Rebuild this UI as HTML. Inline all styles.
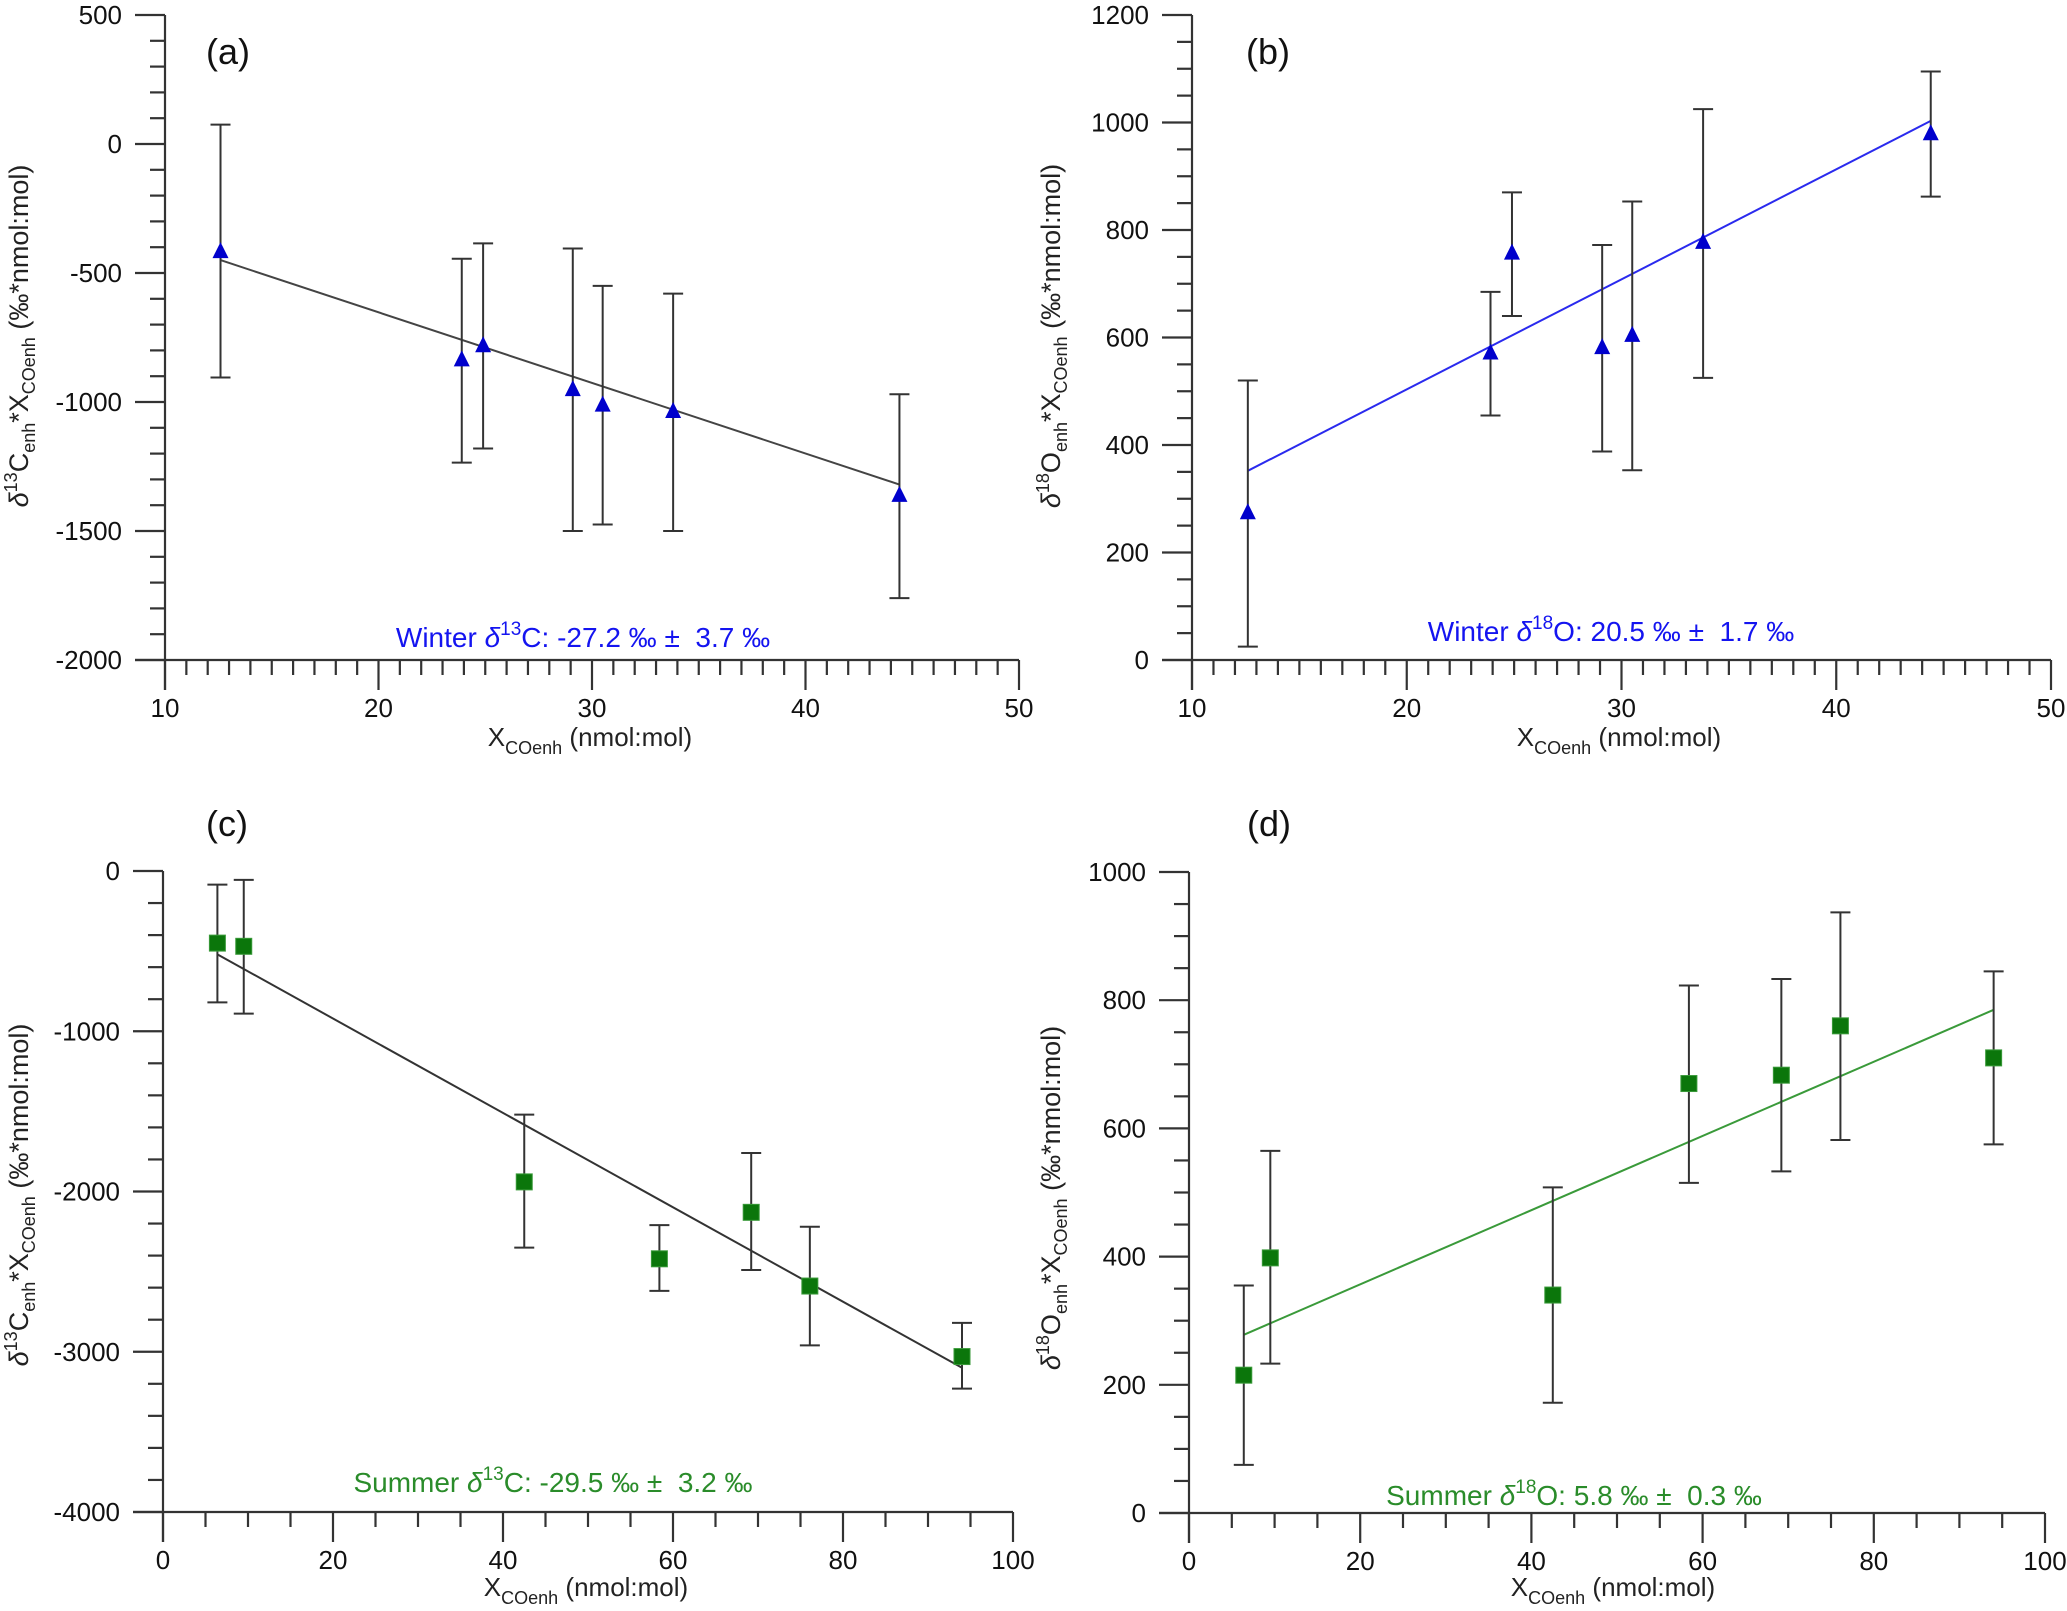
<!DOCTYPE html>
<html><head><meta charset="utf-8"><style>
html,body{margin:0;padding:0;background:#fff;}
svg{display:block;font-family:"Liberation Sans",sans-serif;}
</style></head><body>
<svg id="fig" width="2067" height="1611" viewBox="0 0 2067 1611" xmlns="http://www.w3.org/2000/svg"></svg>
<script>
// ---- data ----
const winterX = [12.6, 23.9, 24.9, 29.1, 30.5, 33.8, 44.4];
const aY  = [-415, -835, -780, -950, -1010, -1035, -1360];
const aHi = [75, -445, -385, -405, -550, -580, -970];
const aLo = [-905, -1235, -1180, -1500, -1475, -1500, -1760];
const aFit = [-450, -1320];
const bY  = [275, 572, 758, 582, 605, 778, 980];
const bHi = [520, 685, 870, 772, 853, 1025, 1095];
const bLo = [25, 455, 640, 388, 353, 525, 862];
const bFit = [352, 1003];
const summerX = [6.4, 9.5, 42.5, 58.4, 69.2, 76.1, 94];
const cY  = [-450, -470, -1940, -2420, -2130, -2590, -3030];
const cHi = [-85, -55, -1520, -2210, -1760, -2220, -2820];
const cLo = [-820, -890, -2350, -2620, -2490, -2960, -3230];
const cFit = [-520, -3100];
const dY  = [215, 398, 340, 670, 683, 760, 710];
const dHi = [355, 565, 508, 823, 833, 937, 845];
const dLo = [75, 233, 172, 515, 533, 582, 575];
const dFit = [278, 785];
const aYTicks = [500, 0, -500, -1000, -1500, -2000];
const bYTicks = [1200, 1000, 800, 600, 400, 200, 0];
const cYTicks = [0, -1000, -2000, -3000, -4000];
const dYTicks = [1000, 800, 600, 400, 200, 0];
const winterXTicks = [10, 20, 30, 40, 50];
const summerXTicks = [0, 20, 40, 60, 80, 100];

const NS = "http://www.w3.org/2000/svg";
const svg = document.getElementById('fig');
function el(tag, attrs, parent){
  const e = document.createElementNS(NS, tag);
  for (const k in attrs) e.setAttribute(k, attrs[k]);
  (parent||svg).appendChild(e); return e;
}

function panel(p){
  const g = el('g', {});
  
  
  const sx = v => p.x0 + (v - p.xmin) / (p.xmax - p.xmin) * (p.x1 - p.x0);
  const sy = v => p.y0 - (v - p.ymin) / (p.ymax - p.ymin) * (p.y0 - p.y1);
  const ax = {stroke:'#333', 'stroke-width':2.2, fill:'none'};
  const yAxis = el('line', Object.assign({x1:p.x0, y1:p.y1, x2:p.x0, y2:p.y0+30}, ax), g);
  
  
  const xAxis = el('line', Object.assign({x1:p.x0-30, y1:p.y0, x2:p.x1, y2:p.y0}, ax), g);
  
  
  for (let v = p.ymin; v <= p.ymax + 1e-9; v += p.yminor){
    const major = p.yticks.some(t => Math.abs(t - v) < 1e-6);
    el('line', Object.assign({x1:p.x0 - (major?30:15), y1:sy(v), x2:p.x0, y2:sy(v)}, ax), g);
  }
  p.yticks.forEach(t => {
    const tx = el('text', {x:p.x0-43, y:sy(t)+9, 'font-size':26, 'text-anchor':'end', fill:'#111'}, g);
    tx.textContent = t;
    
    
  });
  for (let v = p.xmin; v <= p.xmax + 1e-9; v += p.xminor){
    const major = p.xticks.some(t => Math.abs(t - v) < 1e-6);
    el('line', Object.assign({x1:sx(v), y1:p.y0, x2:sx(v), y2:p.y0 + (major?30:15)}, ax), g);
  }
  p.xticks.forEach(t => {
    const tx = el('text', {x:sx(t), y:p.y0+57, 'font-size':26, 'text-anchor':'middle', fill:'#111'}, g);
    tx.textContent = t;
    
    
  });
  const xt = el('text', {x:p.xtx, y:p.xty, 'font-size':26, 'text-anchor':'middle', fill:'#222'}, g);
  
  
  xt.innerHTML = 'X<tspan font-size="18" dy="8">COenh</tspan><tspan dy="-8"> (nmol:mol)</tspan>';
  const yt = el('text', {x:0, y:0, 'font-size':27, 'text-anchor':'middle', fill:'#222',
    transform:'translate(' + p.ytx + ',' + p.yty + ') rotate(-90)'}, g);
  
  
  yt.innerHTML = '<tspan font-style="italic">δ</tspan><tspan font-size="18" dy="-11">' + p.iso + '</tspan><tspan dy="11">' + p.el + '</tspan><tspan font-size="18" dy="7">enh</tspan><tspan dy="-7">*X</tspan><tspan font-size="18" dy="7">COenh</tspan><tspan dy="-7"> (‰*nmol:mol)</tspan>';
  const pl = el('text', {x:p.lx, y:p.ly, 'font-size':36, fill:'#111'}, g);
  pl.textContent = '(' + p.id + ')';
  
  
  const fl = el('line', {x1:sx(p.xs[0]), y1:sy(p.fit[0]), x2:sx(p.xs[p.xs.length-1]), y2:sy(p.fit[1]), stroke:p.lineColor, 'stroke-width':2}, g);
  
  
  p.xs.forEach((xv, i) => {
    const X = sx(xv);
    const eb = el('g', {stroke:'#333', 'stroke-width':2}, g);
    
    
    el('line', {x1:X, y1:sy(p.hi[i]), x2:X, y2:sy(p.lo[i])}, eb);
    el('line', {x1:X-10, y1:sy(p.hi[i]), x2:X+10, y2:sy(p.hi[i])}, eb);
    el('line', {x1:X-10, y1:sy(p.lo[i]), x2:X+10, y2:sy(p.lo[i])}, eb);
    const Y = sy(p.ys[i]);
    let m;
    if (p.marker === 'tri'){
      m = el('polygon', {points:(X-8)+','+(Y+7)+' '+(X+8)+','+(Y+7)+' '+X+','+(Y-9), fill:'#0000cc'}, g);
    } else {
      m = el('rect', {x:X-8, y:Y-8, width:16, height:16, fill:'#0b760b', stroke:'#3a9a3a', 'stroke-width':1}, g);
    }
    
    
  });
  const an = el('text', {x:p.ax, y:p.ay, 'font-size':28, 'text-anchor':'middle', fill:p.textColor}, g);
  an.setAttributeNS('http://www.w3.org/XML/1998/namespace', 'xml:space', 'preserve');
  
  
  an.innerHTML = p.season + ' <tspan font-style="italic">δ</tspan><tspan font-size="19" dy="-12">' + p.iso + '</tspan><tspan dy="12">' + p.el + ': ' + p.val + '</tspan>';
}

panel({id:'a', x0:165, x1:1019, y0:660, y1:15, xmin:10, xmax:50, ymin:-2000, ymax:500,
  xminor:1, yminor:100, xticks:winterXTicks, yticks:aYTicks, xs:winterX, ys:aY, hi:aHi, lo:aLo, fit:aFit,
  marker:'tri', lineColor:'#444', textColor:'#1414f0', season:'Winter', iso:'13', el:'C', val:'-27.2 ‰ ±  3.7 ‰',
  xtx:590, xty:746, ytx:28, yty:336, lx:206, ly:64, ax:583, ay:647});
panel({id:'b', x0:1192, x1:2051, y0:660, y1:15, xmin:10, xmax:50, ymin:0, ymax:1200,
  xminor:1, yminor:50, xticks:winterXTicks, yticks:bYTicks, xs:winterX, ys:bY, hi:bHi, lo:bLo, fit:bFit,
  marker:'tri', lineColor:'#2a2aee', textColor:'#1414f0', season:'Winter', iso:'18', el:'O', val:'20.5 ‰ ±  1.7 ‰',
  xtx:1619, xty:746, ytx:1060, yty:336, lx:1246, ly:64, ax:1611, ay:641});
panel({id:'c', x0:163, x1:1013, y0:1512, y1:871, xmin:0, xmax:100, ymin:-4000, ymax:0,
  xminor:5, yminor:200, xticks:summerXTicks, yticks:cYTicks, xs:summerX, ys:cY, hi:cHi, lo:cLo, fit:cFit,
  marker:'sq', lineColor:'#333', textColor:'#2a8c2a', season:'Summer', iso:'13', el:'C', val:'-29.5 ‰ ±  3.2 ‰',
  xtx:586, xty:1596, ytx:28, yty:1195, lx:206, ly:836, ax:553, ay:1492});
panel({id:'d', x0:1189, x1:2045, y0:1513, y1:872, xmin:0, xmax:100, ymin:0, ymax:1000,
  xminor:5, yminor:50, xticks:summerXTicks, yticks:dYTicks, xs:summerX, ys:dY, hi:dHi, lo:dLo, fit:dFit,
  marker:'sq', lineColor:'#3a9a3a', textColor:'#2a8c2a', season:'Summer', iso:'18', el:'O', val:'5.8 ‰ ±  0.3 ‰',
  xtx:1613, xty:1596, ytx:1060, yty:1198, lx:1247, ly:836, ax:1574, ay:1505});
</script>
</body></html>
